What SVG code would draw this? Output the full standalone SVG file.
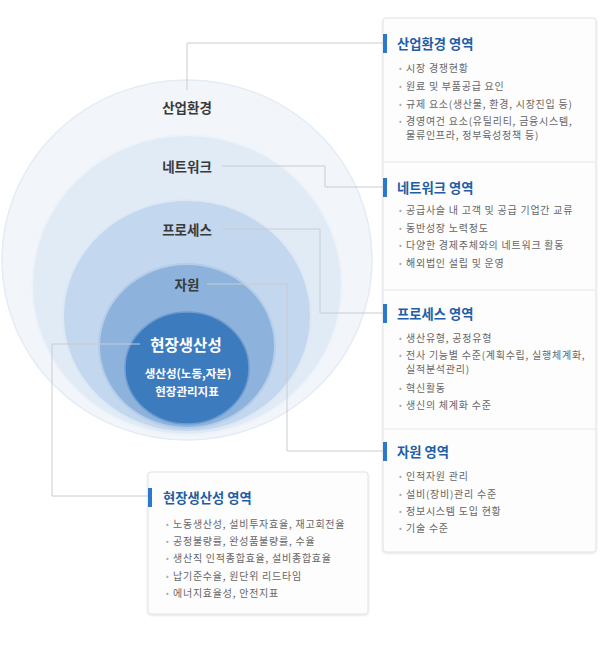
<svg xmlns="http://www.w3.org/2000/svg" width="600" height="656" viewBox="0 0 600 656">
<defs>
<style>
.lbl{font-family:"Noto Sans CJK KR","Noto Sans",sans-serif;font-weight:700;fill:#3a3a3a;font-size:13.5px;text-anchor:middle;dominant-baseline:central}
.core{font-family:"Noto Sans CJK KR","Noto Sans",sans-serif;font-weight:700;fill:#ffffff;text-anchor:middle;dominant-baseline:central}
.ttl{font-family:"Noto Sans CJK KR","Noto Sans",sans-serif;font-weight:700;fill:#1f5ea6;font-size:13.3px;dominant-baseline:central}
.itm{font-family:"Noto Sans CJK KR","Noto Sans",sans-serif;fill:#666;font-size:10px;letter-spacing:0.75px;dominant-baseline:central}
.bul{font-family:"Noto Sans CJK KR","Noto Sans",sans-serif;fill:#aaa;font-size:8px;dominant-baseline:central}
.bar{fill:#2c78cc}
.panel{fill:#fdfdfe;stroke:#dfe2e6;stroke-width:1}
.div{stroke:#e3e6ea;stroke-width:1}
.conn{fill:none;stroke:#c9ccd0;stroke-width:1}
</style>
<filter id="sh" x="-5%" y="-5%" width="110%" height="110%">
<feDropShadow dx="0" dy="1" stdDeviation="1" flood-color="#000" flood-opacity="0.12"/>
</filter>
</defs>
<rect width="600" height="656" fill="#ffffff"/>

<g id="circles">
<ellipse id="c-env" cx="187" cy="260" rx="185" ry="180" fill="#f2f6fb" stroke="#e3ebf5" stroke-width="1.5"/>
<ellipse id="c-net" cx="187" cy="285" rx="155" ry="150" fill="#e1ebf6" stroke="#eef3fa" stroke-width="2"/>
<ellipse id="c-proc" cx="187" cy="316" rx="124" ry="116" fill="#c3d7ee" stroke="#dde8f5" stroke-width="2"/>
<ellipse id="c-res" cx="187" cy="346" rx="88" ry="82" fill="#8db3dd" stroke="#b5cde9" stroke-width="2"/>
<ellipse id="c-site" cx="187" cy="368" rx="62" ry="56" fill="#3d7bbf" stroke="#6d9bd0" stroke-width="1.5"/>
</g>

<g id="connectors">
<polyline class="conn" points="187,90 187,43 383,43"/>
<polyline class="conn" points="222,166 325,166 325,187 383,187"/>
<polyline class="conn" points="222,229 320,229 320,313 383,313"/>
<polyline class="conn" points="207,284 287,284 287,451 383,451"/>
<polyline class="conn" points="140,344 52,344 52,496 148,496"/>
</g>

<g id="node-labels">
<text class="lbl" x="187" y="107">산업환경</text>
<text class="lbl" x="187" y="166">네트워크</text>
<text class="lbl" x="187" y="229">프로세스</text>
<text class="lbl" x="187" y="284">자원</text>
<text class="core" x="186" y="344" font-size="15.5">현장생산성</text>
<text class="core" x="188" y="373" font-size="11.5">생산성(노동,자본)</text>
<text class="core" x="187" y="391" font-size="11.5">현장관리지표</text>
</g>

<g id="right-panel">
<rect class="panel" x="383" y="18" width="213" height="534" rx="3" filter="url(#sh)"/>
<line class="div" x1="384" y1="162" x2="595" y2="162"/>
<line class="div" x1="384" y1="290" x2="595" y2="290"/>
<line class="div" x1="384" y1="429" x2="595" y2="429"/>
</g>

<g id="sec-env">
<rect class="bar" x="383" y="34" width="4" height="19"/>
<text class="ttl" x="397" y="43">산업환경 영역</text>
<text class="bul" x="399" y="67">•</text><text class="itm" x="406" y="67">시장 경쟁현황</text>
<text class="bul" x="399" y="85">•</text><text class="itm" x="406" y="85">원료 및 부품공급 요인</text>
<text class="bul" x="399" y="103">•</text><text class="itm" x="406" y="103">규제 요소(생산물, 환경, 시장진입 등)</text>
<text class="bul" x="399" y="120">•</text><text class="itm" x="406" y="120">경영여건 요소(유틸리티, 금융시스템,</text>
<text class="itm" x="406" y="134.5">물류인프라, 정부육성정책 등)</text>
</g>

<g id="sec-net">
<rect class="bar" x="383" y="178" width="4" height="19"/>
<text class="ttl" x="397" y="187">네트워크 영역</text>
<text class="bul" x="399" y="209">•</text><text class="itm" x="406" y="209">공급사슬 내 고객 및 공급 기업간 교류</text>
<text class="bul" x="399" y="227">•</text><text class="itm" x="406" y="227">동반성장 노력정도</text>
<text class="bul" x="399" y="244">•</text><text class="itm" x="406" y="244">다양한 경제주체와의 네트워크 활동</text>
<text class="bul" x="399" y="262">•</text><text class="itm" x="406" y="262">해외법인 설립 및 운영</text>
</g>

<g id="sec-proc">
<rect class="bar" x="383" y="304" width="4" height="19"/>
<text class="ttl" x="397" y="313">프로세스 영역</text>
<text class="bul" x="399" y="337">•</text><text class="itm" x="406" y="337">생산유형, 공정유형</text>
<text class="bul" x="399" y="354">•</text><text class="itm" x="406" y="354">전사 기능별 수준(계획수립, 실행체계화,</text>
<text class="itm" x="406" y="368.5">실적분석관리)</text>
<text class="bul" x="399" y="387">•</text><text class="itm" x="406" y="387">혁신활동</text>
<text class="bul" x="399" y="404">•</text><text class="itm" x="406" y="404">생신의 체계화 수준</text>
</g>

<g id="sec-res">
<rect class="bar" x="383" y="442" width="4" height="19"/>
<text class="ttl" x="397" y="451">자원 영역</text>
<text class="bul" x="399" y="475">•</text><text class="itm" x="406" y="475">인적자원 관리</text>
<text class="bul" x="399" y="493">•</text><text class="itm" x="406" y="493">설비(장비)관리 수준</text>
<text class="bul" x="399" y="510">•</text><text class="itm" x="406" y="510">정보시스템 도입 현황</text>
<text class="bul" x="399" y="527">•</text><text class="itm" x="406" y="527">기술 수준</text>
</g>

<g id="sec-site">
<rect class="panel" x="148" y="472" width="220" height="142" rx="3" filter="url(#sh)"/>
<rect class="bar" x="148" y="488" width="4" height="19"/>
<text class="ttl" x="163" y="497">현장생산성 영역</text>
<text class="bul" x="166" y="523">•</text><text class="itm" x="173" y="523">노동생산성, 설비투자효율, 재고회전율</text>
<text class="bul" x="166" y="540">•</text><text class="itm" x="173" y="540">공정불량률, 완성품불량률, 수율</text>
<text class="bul" x="166" y="557">•</text><text class="itm" x="173" y="557">생산직 인적종합효율, 설비종합효율</text>
<text class="bul" x="166" y="575">•</text><text class="itm" x="173" y="575">납기준수율, 원단위 리드타임</text>
<text class="bul" x="166" y="592">•</text><text class="itm" x="173" y="592">에너지효율성, 안전지표</text>
</g>
</svg>
